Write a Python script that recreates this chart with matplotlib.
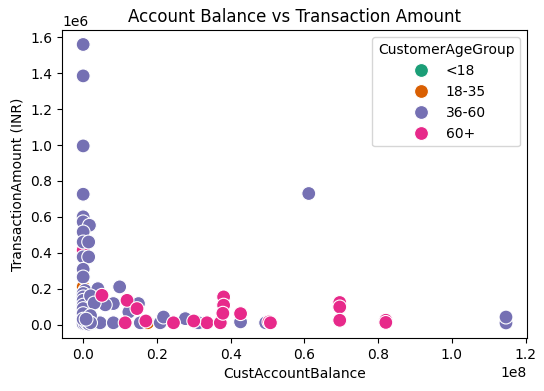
import pandas as pd
import matplotlib
matplotlib.use('Agg')
import matplotlib.pyplot as plt
import seaborn as sns

# values: balance in 1e8 INR, amount in 1e6 INR
age_groups = ['<18', '18-35', '36-60', '60+']

mid_bal = [0.0, 0.0, 0.0, 0.0, 0.0, 0.0, 0.017, 0.0, 0.0, 0.015, 0.0, 0.015,
           0.0, 0.0, 0.005, 0.0, 0.0, 0.0, 0.0, 0.0, 0.0, 0.0, 0.04, 0.02,
           0.099, 0.082, 0.128, 0.15, 0.124, 0.028, 0.046, 0.082, 0.155,
           0.209, 0.218, 0.277, 0.309, 0.313, 0.427, 0.495, 0.612, 1.147,
           1.147, 0.06, 0.03, 0.02, 0.005, 0.01, 0.015, 0.02, 0.0, 0.008]
mid_amt = [1.56, 1.385, 0.995, 0.726, 0.60, 0.572, 0.553, 0.516, 0.46, 0.46,
           0.377, 0.377, 0.308, 0.265, 0.19, 0.173, 0.154, 0.135, 0.108,
           0.089, 0.061, 0.005, 0.20, 0.16, 0.21, 0.117, 0.117, 0.117, 0.07,
           0.01, 0.01, 0.01, 0.01, 0.01, 0.042, 0.033, 0.01, 0.01, 0.015,
           0.01, 0.73, 0.009, 0.042, 0.11, 0.12, 0.05, 0.005, 0.008, 0.003,
           0.01, 0.03, 0.03]

old_bal = [0.0, 0.051, 0.119, 0.146, 0.114, 0.245, 0.336, 0.372, 0.381,
           0.381, 0.379, 0.427, 0.504, 0.508, 0.696, 0.696, 0.696, 0.821,
           0.821, 0.03, 0.01, 0.17, 0.30, 0.005]
old_amt = [0.414, 0.163, 0.135, 0.089, 0.01, 0.01, 0.01, 0.01, 0.154,
           0.108, 0.063, 0.061, 0.015, 0.01, 0.123, 0.098, 0.024, 0.024,
           0.012, 0.15, 0.05, 0.02, 0.02, 0.09]

young_bal = [0.0, 0.175, 0.005, 0.02]
young_amt = [0.21, 0.01, 0.05, 0.02]

def group(bal, amt, name):
    return pd.DataFrame({
        'CustAccountBalance': [b * 1e8 for b in bal],
        'TransactionAmount (INR)': [a * 1e6 for a in amt],
        'CustomerAgeGroup': name,
    })

old = group(old_bal, old_amt, '60+')
near = old['CustAccountBalance'] < 0.045e8
# pink points in the column near zero sit behind the purple ones
df = pd.concat([old[near], group(young_bal, young_amt, '18-35'),
                group(mid_bal, mid_amt, '36-60'), old[~near]],
               ignore_index=True)

fig, ax = plt.subplots(figsize=(5.44, 3.91), dpi=100)
fig.subplots_adjust(left=0.114, right=0.969, bottom=0.1355, top=0.922)

sns.scatterplot(data=df, x='CustAccountBalance', y='TransactionAmount (INR)',
                hue='CustomerAgeGroup', hue_order=age_groups,
                palette='Dark2', s=100, ax=ax)

ax.set_title('Account Balance vs Transaction Amount')
ax.legend(title='CustomerAgeGroup', loc='upper right')

plt.savefig('out.png', dpi=100)
